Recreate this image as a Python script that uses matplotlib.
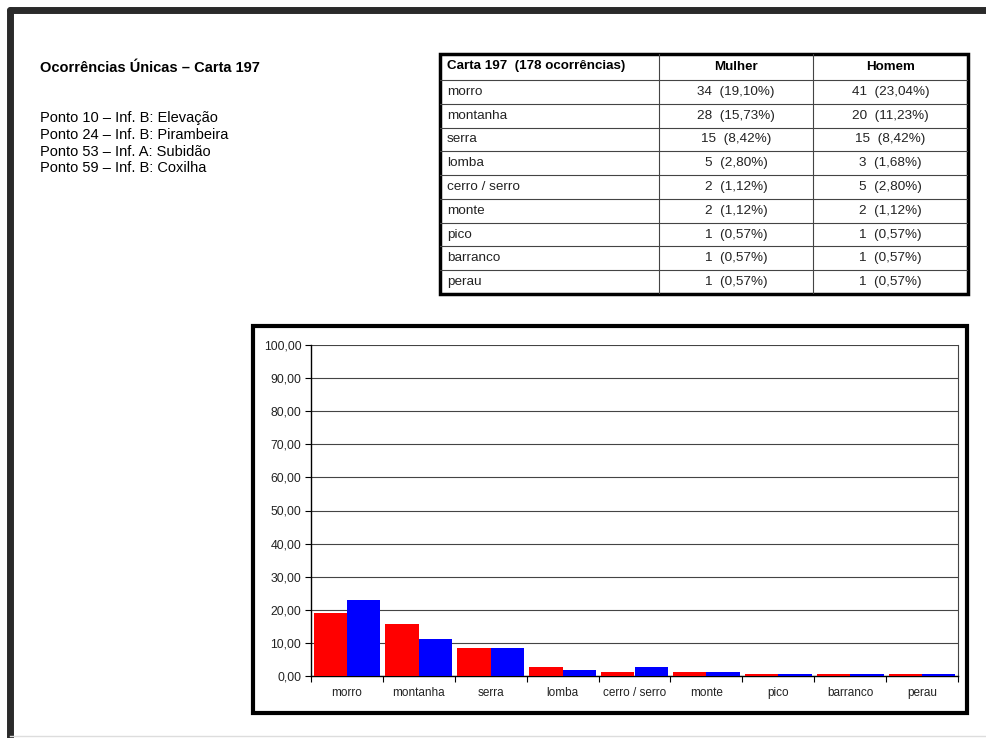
import numpy as np
import matplotlib.pyplot as plt
from matplotlib.patches import Rectangle
from matplotlib.lines import Line2D
from matplotlib.ticker import FuncFormatter, FixedLocator

plt.rcParams['font.family'] = ['Liberation Sans', 'DejaVu Sans']

# données
categorias = ['morro', 'montanha', 'serra', 'lomba', 'cerro / serro', 'monte', 'pico', 'barranco', 'perau']
mulher_n = [34, 28, 15, 5, 2, 2, 1, 1, 1]
homem_n = [41, 20, 15, 3, 5, 2, 1, 1, 1]
mulher_pct = [19.10, 15.73, 8.42, 2.80, 1.12, 1.12, 0.57, 0.57, 0.57]
homem_pct = [23.04, 11.23, 8.42, 1.68, 2.80, 1.12, 0.57, 0.57, 0.57]
titulo = 'Ocorrências Únicas – Carta 197'
pontos = ['Ponto 10 – Inf. B: Elevação',
          'Ponto 24 – Inf. B: Pirambeira',
          'Ponto 53 – Inf. A: Subidão',
          'Ponto 59 – Inf. B: Coxilha']
cabecalho = ['Carta 197  (178 ocorrências)', 'Mulher', 'Homem']

W, H = 987, 738
fig = plt.figure(figsize=(W / 100, H / 100), dpi=100)


def fx(px):
    return px / W


def fy(py):
    return 1 - py / H


# bordure de la page
fig.add_artist(Line2D([fx(10), fx(987)], [fy(10), fy(10)], color='#2a2a2a', lw=5,
                      solid_capstyle='round'))
fig.add_artist(Line2D([fx(10), fx(10)], [fy(10), fy(738)], color='#2a2a2a', lw=5,
                      solid_capstyle='round'))
fig.add_artist(Line2D([fx(10), fx(987)], [fy(736), fy(736)], color='#dddddd', lw=1))

# texte à gauche
fig.text(fx(40), fy(68), titulo, fontsize=10.5, fontweight='bold', va='center', ha='left')
for i, p in enumerate(pontos):
    fig.text(fx(40), fy(118 + i * 16.8), p, fontsize=10.5, va='center', ha='left')

# tableau
tab = fig.add_axes([fx(440), fy(294), fx(968) - fx(440), fy(54) - fy(294)])
tab.set_xlim(0, 528)
tab.set_ylim(240, 0)
tab.axis('off')
col_x = [0, 219, 373, 528]
row_y = [0, 26] + [26 + (i + 1) * 214 / 9 for i in range(9)]
for y in row_y[1:-1]:
    tab.plot([0, 528], [y, y], color='#444444', lw=0.8)
for x in col_x[1:-1]:
    tab.plot([x, x], [0, 240], color='#444444', lw=0.8)
tab.add_patch(Rectangle((0, 0), 528, 240, fill=False, ec='black', lw=2.5, clip_on=False))

tab.text(7, 12.5, cabecalho[0], fontsize=9.6, fontweight='bold', va='center', ha='left')
tab.text((col_x[1] + col_x[2]) / 2, 12.5, cabecalho[1], fontsize=9.6, fontweight='bold',
         va='center', ha='center')
tab.text((col_x[2] + col_x[3]) / 2, 12.5, cabecalho[2], fontsize=9.6, fontweight='bold',
         va='center', ha='center')


def fmt_cell(n, p):
    return '%d  (%s%%)' % (n, ('%.2f' % p).replace('.', ','))


for i, cat in enumerate(categorias):
    yc = (row_y[i + 1] + row_y[i + 2]) / 2
    tab.text(7, yc, cat, fontsize=9.7, va='center', ha='left', color='#222222')
    tab.text((col_x[1] + col_x[2]) / 2, yc, fmt_cell(mulher_n[i], mulher_pct[i]),
             fontsize=9.7, va='center', ha='center', color='#222222')
    tab.text((col_x[2] + col_x[3]) / 2, yc, fmt_cell(homem_n[i], homem_pct[i]),
             fontsize=9.7, va='center', ha='center', color='#222222')

# cadre du graphique
fig.add_artist(Rectangle((fx(253), fy(713)), fx(967) - fx(253), fy(326) - fy(713),
                         fill=False, ec='black', lw=3, transform=fig.transFigure))

ax = fig.add_axes([fx(311), fy(676), fx(958) - fx(311), fy(345) - fy(676)])
x = np.arange(len(categorias))
larg = 0.465
ax.bar(x - larg / 2, mulher_pct, width=larg, color='#ff0000', zorder=3)
ax.bar(x + larg / 2, homem_pct, width=larg, color='#0000ff', zorder=3)

ax.set_xlim(-0.5, len(categorias) - 0.5)
ax.set_ylim(0, 100)
ax.set_yticks(np.arange(0, 101, 10))
ax.yaxis.set_major_formatter(FuncFormatter(lambda v, pos: ('%.2f' % v).replace('.', ',')))
ax.grid(axis='y', color='#444444', lw=0.8, zorder=0)
ax.set_xticks(x)
ax.set_xticklabels(categorias)
for lab in ax.get_xticklabels():
    lab.set_verticalalignment('baseline')
ax.xaxis.set_minor_locator(FixedLocator(np.arange(-0.5, len(categorias), 1)))
ax.tick_params(axis='x', which='major', length=0, pad=14.5, labelsize=8.5, labelcolor='#222222')
ax.tick_params(axis='x', which='minor', length=4, width=0.8, direction='out')
ax.tick_params(axis='y', length=4, width=0.8, labelsize=8.8, labelcolor='#222222', pad=3)

for s in ['left', 'bottom']:
    ax.spines[s].set_color('black')
    ax.spines[s].set_linewidth(1)
ax.spines['top'].set_visible(False)
ax.spines['right'].set_color('#444444')
ax.spines['right'].set_linewidth(0.8)

fig.savefig('out.png', dpi=100)
